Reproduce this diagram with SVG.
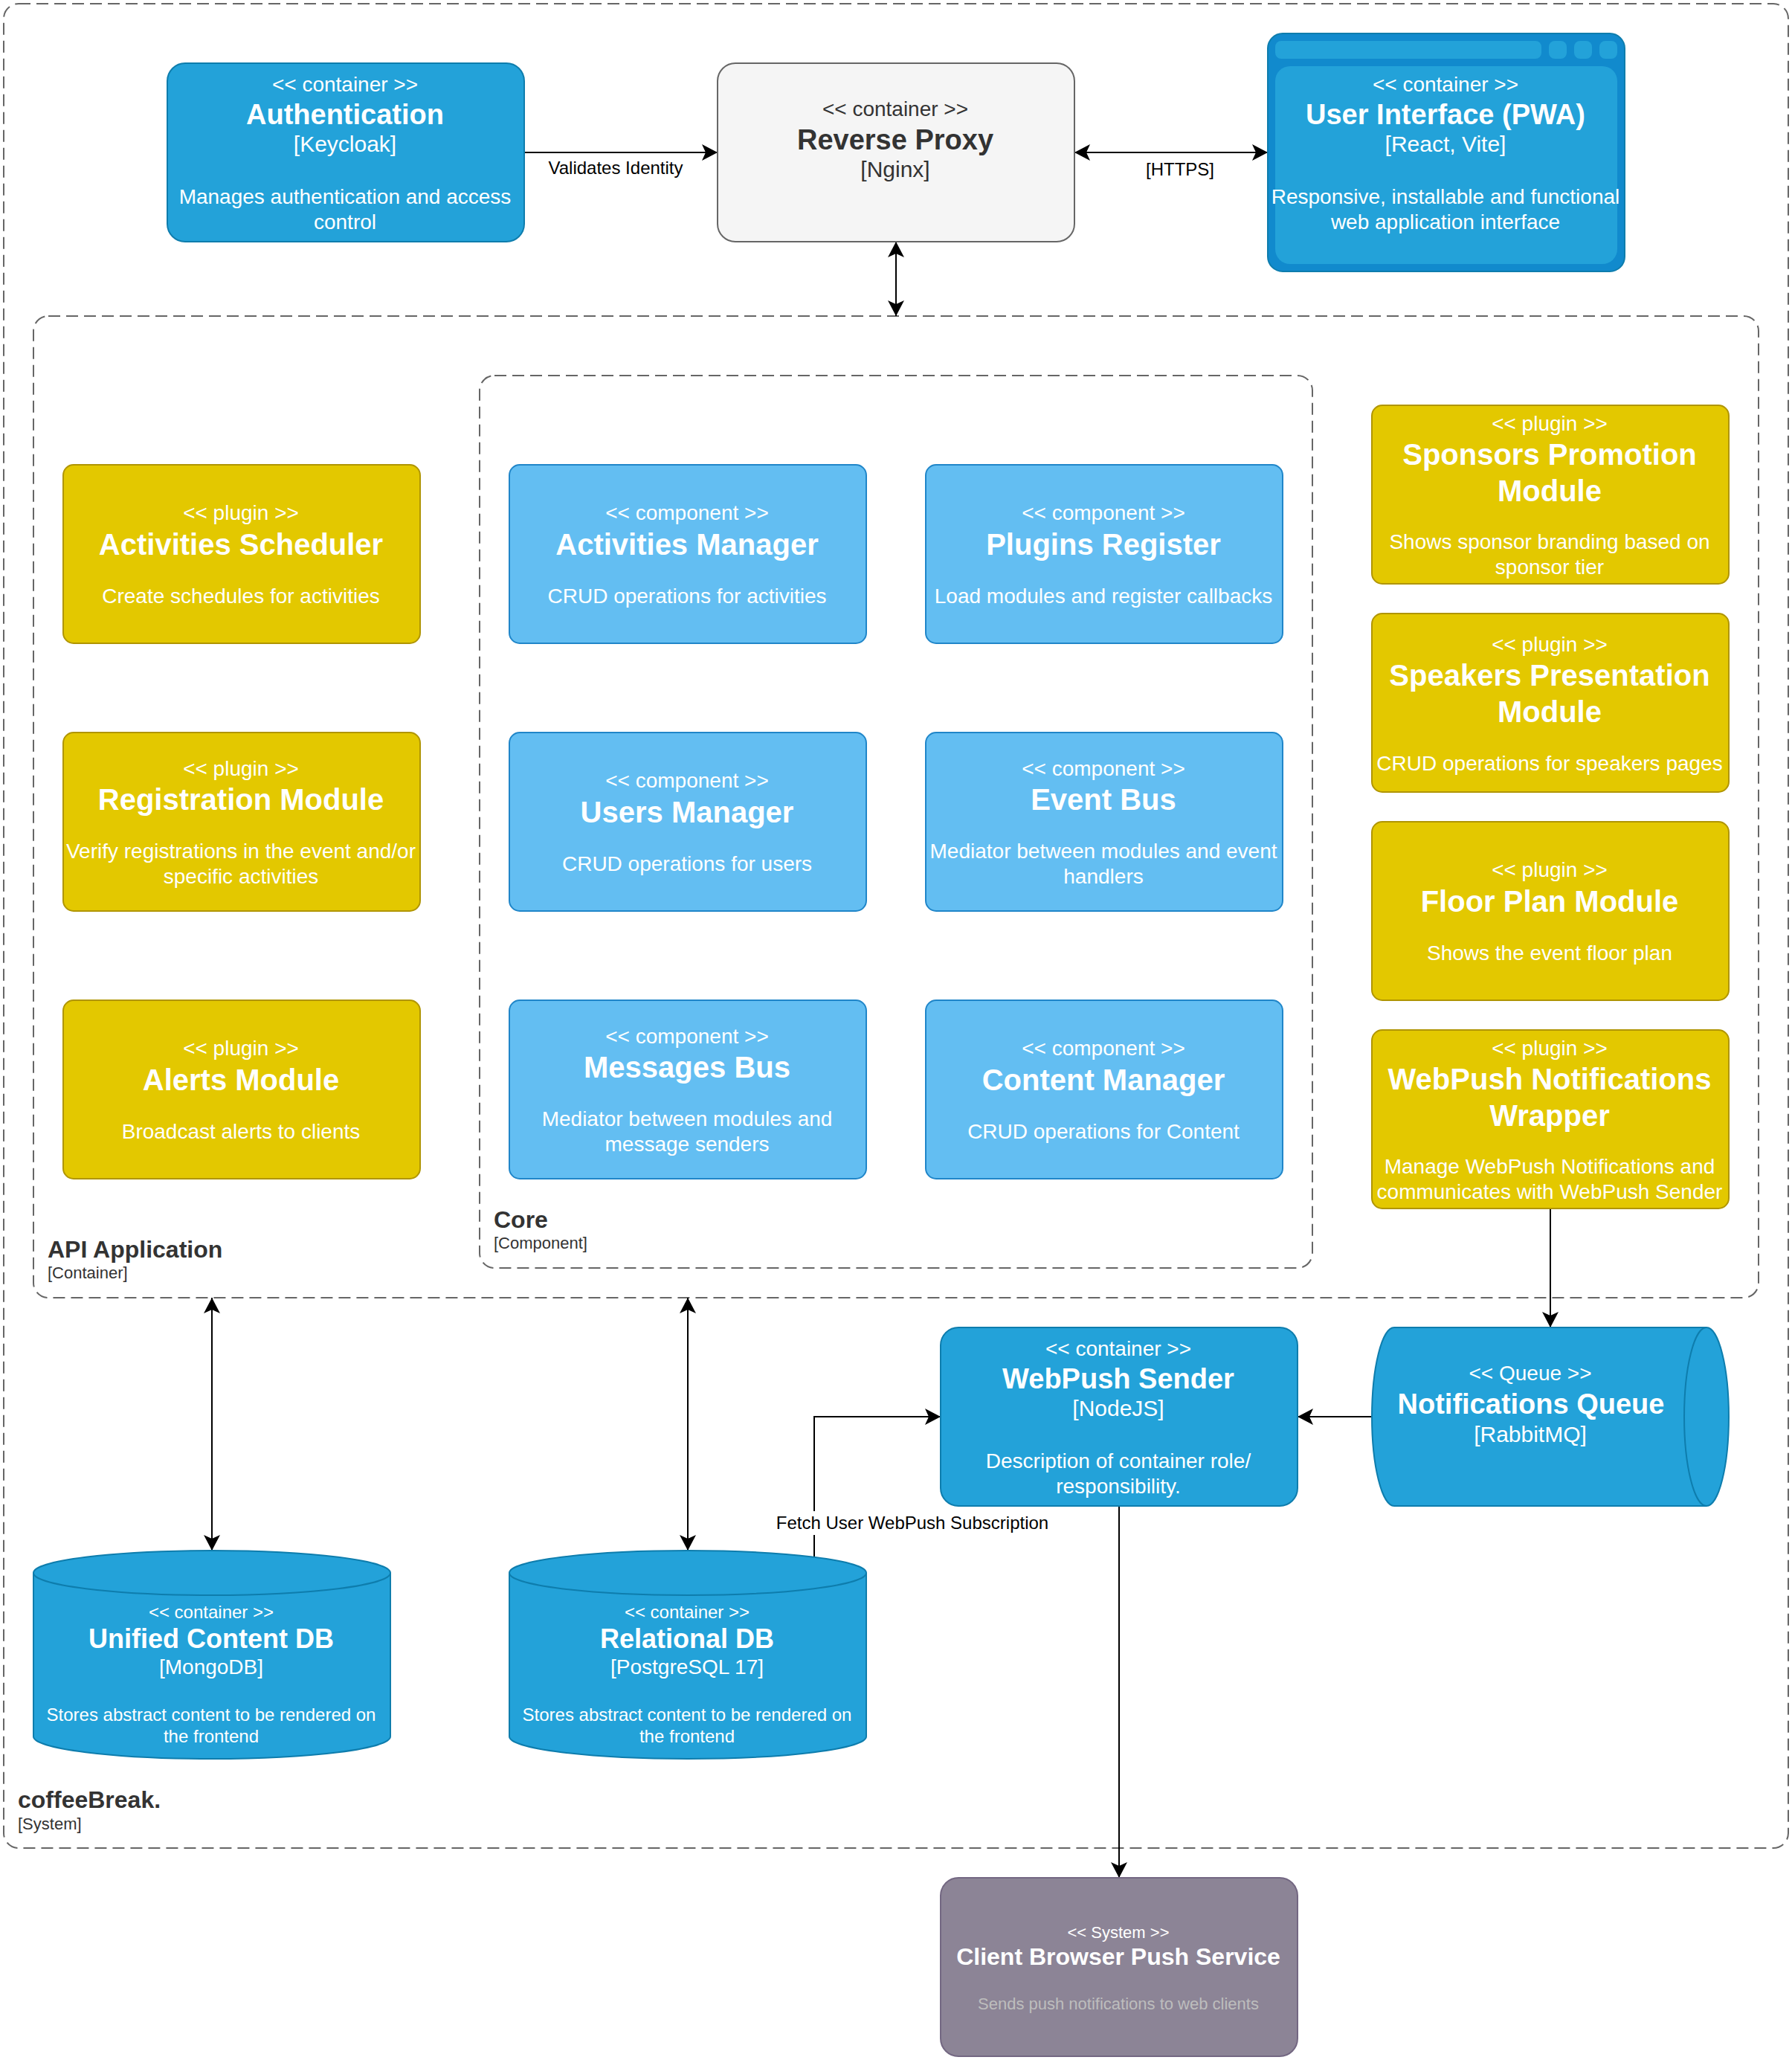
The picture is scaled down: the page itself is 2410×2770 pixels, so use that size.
<svg xmlns="http://www.w3.org/2000/svg" width="2410" height="2770" viewBox="0 0 2410 2770">
<defs>
<marker id="end" markerUnits="userSpaceOnUse" markerWidth="24" markerHeight="24" refX="22" refY="12" orient="auto"><path d="M22 12L1 23L6 12L1 1Z" fill="#000"/></marker>
<marker id="start" markerUnits="userSpaceOnUse" markerWidth="24" markerHeight="24" refX="2" refY="12" orient="auto"><path d="M2 12L23 1L18 12L23 23Z" fill="#000"/></marker>
</defs>
<style>
text{font-family:"Liberation Sans",Arial,sans-serif;font-size:28px;fill:#fff;text-anchor:middle}
.t{font-size:40px;font-weight:bold}
.tc{font-size:38px;font-weight:bold}
.v{font-size:30px}
.c{fill:#23A2D9;stroke:#0E7DAD;stroke-width:2}
.k{fill:#63BEF2;stroke:#2086C9;stroke-width:2}
.p{fill:#E3C800;stroke:#B09500;stroke-width:2}
.b{fill:none;stroke:#666;stroke-width:2;stroke-dasharray:16 8}
.l{fill:none;stroke:#000;stroke-width:2}
.e{font-size:24px;fill:#000}
.h{text-anchor:start;font-weight:bold;font-size:32px;fill:#333}
.s{text-anchor:start;font-size:22px;fill:#333}
.d{font-size:24px}
.dt{font-size:36px;font-weight:bold}
</style>
<g id="boundaries">
<rect id="system-boundary" class="b" x="5" y="5" width="2400" height="2480" rx="20"/>
<rect id="api-boundary" class="b" x="45" y="425" width="2320" height="1320" rx="20"/>
<rect id="core-boundary" class="b" x="645" y="505" width="1120" height="1200" rx="20"/>
<text class="h" x="24" y="2431">coffeeBreak.</text><text class="s" x="24" y="2460">[System]</text>
<text class="h" x="64" y="1691">API Application</text><text class="s" x="64" y="1719">[Container]</text>
<text class="h" x="664" y="1651">Core</text><text class="s" x="664" y="1679">[Component]</text>
</g>
<g id="connectors">
<path class="l" d="M705 205H965" marker-end="url(#end)"/>
<path class="l" d="M1445 205H1705" marker-start="url(#start)" marker-end="url(#end)"/>
<path class="l" d="M1205 325V425" marker-start="url(#start)" marker-end="url(#end)"/>
<path class="l" d="M2085 1625V1785" marker-end="url(#end)"/>
<path class="l" d="M1845 1905H1745" marker-end="url(#end)"/>
<path class="l" d="M285 1745V2085" marker-start="url(#start)" marker-end="url(#end)"/>
<path class="l" d="M925 1745V2085" marker-start="url(#start)" marker-end="url(#end)"/>
<path class="l" d="M1095 2100V1905H1265" marker-end="url(#end)"/>
<path class="l" d="M1505 2025V2525" marker-end="url(#end)"/>
<text class="e" x="828" y="234">Validates Identity</text>
<text class="e" x="1587" y="236">[HTTPS]</text>
<rect x="1044" y="2032" width="366" height="32" fill="#fff"/>
<text class="e" x="1227" y="2056">Fetch User WebPush Subscription</text>
</g>
<g id="authentication"><rect class="c" x="225" y="85" width="480" height="240" rx="24"/>
<text x="464" y="123">&lt;&lt; container &gt;&gt;</text><text class="tc" x="464" y="167">Authentication</text><text class="v" x="464" y="204">[Keycloak]</text><text x="464" y="274">Manages authentication and access</text><text x="464" y="308">control</text></g>
<g id="reverse-proxy"><rect x="965" y="85" width="480" height="240" rx="24" fill="#F5F5F5" stroke="#666" stroke-width="2"/>
<text x="1204" y="156" style="fill:#333">&lt;&lt; container &gt;&gt;</text><text class="tc" x="1204" y="201" style="fill:#333">Reverse Proxy</text><text class="v" x="1204" y="238" style="fill:#333">[Nginx]</text></g>
<g id="user-interface"><rect x="1705" y="45" width="480" height="320" rx="20" fill="#118ACD" stroke="#0E7DAD" stroke-width="2"/>
<g fill="#23A2D9"><rect x="1715" y="55" width="358" height="24" rx="8"/><rect x="2083" y="55" width="24" height="24" rx="8"/><rect x="2117" y="55" width="24" height="24" rx="8"/><rect x="2151" y="55" width="24" height="24" rx="8"/><rect x="1715" y="89" width="460" height="266" rx="20"/></g>
<text x="1944" y="123">&lt;&lt; container &gt;&gt;</text><text class="tc" x="1944" y="167">User Interface (PWA)</text><text class="v" x="1944" y="204">[React, Vite]</text><text x="1944" y="274">Responsive, installable and functional</text><text x="1944" y="308">web application interface</text></g>
<g id="activities-scheduler"><rect class="p" x="85" y="625" width="480" height="240" rx="14"/><text x="324" y="699">&lt;&lt; plugin &gt;&gt;</text><text class="t" x="324" y="746">Activities Scheduler</text><text x="324" y="811">Create schedules for activities</text></g>
<g id="registration-module"><rect class="p" x="85" y="985" width="480" height="240" rx="14"/><text x="324" y="1043">&lt;&lt; plugin &gt;&gt;</text><text class="t" x="324" y="1089">Registration Module</text><text x="324" y="1154">Verify registrations in the event and/or</text><text x="324" y="1188">specific activities</text></g>
<g id="alerts-module"><rect class="p" x="85" y="1345" width="480" height="240" rx="14"/><text x="324" y="1419">&lt;&lt; plugin &gt;&gt;</text><text class="t" x="324" y="1466">Alerts Module</text><text x="324" y="1531">Broadcast alerts to clients</text></g>
<g id="activities-manager"><rect class="k" x="685" y="625" width="480" height="240" rx="14"/><text x="924" y="699">&lt;&lt; component &gt;&gt;</text><text class="t" x="924" y="746">Activities Manager</text><text x="924" y="811">CRUD operations for activities</text></g>
<g id="plugins-register"><rect class="k" x="1245" y="625" width="480" height="240" rx="14"/><text x="1484" y="699">&lt;&lt; component &gt;&gt;</text><text class="t" x="1484" y="746">Plugins Register</text><text x="1484" y="811">Load modules and register callbacks</text></g>
<g id="users-manager"><rect class="k" x="685" y="985" width="480" height="240" rx="14"/><text x="924" y="1059">&lt;&lt; component &gt;&gt;</text><text class="t" x="924" y="1106">Users Manager</text><text x="924" y="1171">CRUD operations for users</text></g>
<g id="event-bus"><rect class="k" x="1245" y="985" width="480" height="240" rx="14"/><text x="1484" y="1043">&lt;&lt; component &gt;&gt;</text><text class="t" x="1484" y="1089">Event Bus</text><text x="1484" y="1154">Mediator between modules and event</text><text x="1484" y="1188">handlers</text></g>
<g id="messages-bus"><rect class="k" x="685" y="1345" width="480" height="240" rx="14"/><text x="924" y="1403">&lt;&lt; component &gt;&gt;</text><text class="t" x="924" y="1449">Messages Bus</text><text x="924" y="1514">Mediator between modules and</text><text x="924" y="1548">message senders</text></g>
<g id="content-manager"><rect class="k" x="1245" y="1345" width="480" height="240" rx="14"/><text x="1484" y="1419">&lt;&lt; component &gt;&gt;</text><text class="t" x="1484" y="1466">Content Manager</text><text x="1484" y="1531">CRUD operations for Content</text></g>
<g id="sponsors-promotion"><rect class="p" x="1845" y="545" width="480" height="240" rx="14"/><text x="2084" y="579">&lt;&lt; plugin &gt;&gt;</text><text class="t" x="2084" y="625">Sponsors Promotion</text><text class="t" x="2084" y="674">Module</text><text x="2084" y="738">Shows sponsor branding based on</text><text x="2084" y="772">sponsor tier</text></g>
<g id="speakers-presentation"><rect class="p" x="1845" y="825" width="480" height="240" rx="14"/><text x="2084" y="876">&lt;&lt; plugin &gt;&gt;</text><text class="t" x="2084" y="922">Speakers Presentation</text><text class="t" x="2084" y="971">Module</text><text x="2084" y="1036">CRUD operations for speakers pages</text></g>
<g id="floor-plan"><rect class="p" x="1845" y="1105" width="480" height="240" rx="14"/><text x="2084" y="1179">&lt;&lt; plugin &gt;&gt;</text><text class="t" x="2084" y="1226">Floor Plan Module</text><text x="2084" y="1291">Shows the event floor plan</text></g>
<g id="webpush-wrapper"><rect class="p" x="1845" y="1385" width="480" height="240" rx="14"/><text x="2084" y="1419">&lt;&lt; plugin &gt;&gt;</text><text class="t" x="2084" y="1465">WebPush Notifications</text><text class="t" x="2084" y="1514">Wrapper</text><text x="2084" y="1578">Manage WebPush Notifications and</text><text x="2084" y="1612">communicates with WebPush Sender</text></g>
<g id="webpush-sender"><rect class="c" x="1265" y="1785" width="480" height="240" rx="24"/><text x="1504" y="1823">&lt;&lt; container &gt;&gt;</text><text class="tc" x="1504" y="1867">WebPush Sender</text><text class="v" x="1504" y="1904">[NodeJS]</text><text x="1504" y="1974">Description of container role/</text><text x="1504" y="2008">responsibility.</text></g>
<g id="notifications-queue"><path class="c" d="M1875 1785H2295A30 120 0 0 1 2295 2025H1875A30 120 0 0 1 1875 1785Z"/><path class="c" style="fill:none" d="M2295 1785A30 120 0 0 0 2295 2025"/><text x="2058" y="1856">&lt;&lt; Queue &gt;&gt;</text><text class="tc" x="2059" y="1901">Notifications Queue</text><text class="v" x="2058" y="1939">[RabbitMQ]</text></g>
<g id="unified-content-db"><path class="c" d="M45 2115A240 30 0 0 1 525 2115V2335A240 30 0 0 1 45 2335Z"/><path class="c" style="fill:none" d="M525 2115A240 30 0 0 1 45 2115"/><text class="d" x="284" y="2176">&lt;&lt; container &gt;&gt;</text><text class="dt" x="284" y="2216">Unified Content DB</text><text x="284" y="2251">[MongoDB]</text><text class="d" x="284" y="2314">Stores abstract content to be rendered on</text><text class="d" x="284" y="2343">the frontend</text></g>
<g id="relational-db"><path class="c" d="M685 2115A240 30 0 0 1 1165 2115V2335A240 30 0 0 1 685 2335Z"/><path class="c" style="fill:none" d="M1165 2115A240 30 0 0 1 685 2115"/><text class="d" x="924" y="2176">&lt;&lt; container &gt;&gt;</text><text class="dt" x="924" y="2216">Relational DB</text><text x="924" y="2251">[PostgreSQL 17]</text><text class="d" x="924" y="2314">Stores abstract content to be rendered on</text><text class="d" x="924" y="2343">the frontend</text></g>
<g id="client-browser-push"><rect x="1265" y="2525" width="480" height="240" rx="24" fill="#8C8496" stroke="#736782" stroke-width="2"/><text x="1504" y="2606" style="font-size:22px">&lt;&lt; System &gt;&gt;</text><text x="1504" y="2642" style="font-size:32px;font-weight:bold">Client Browser Push Service</text><text x="1504" y="2702" style="font-size:22px;fill:#BDBDBD">Sends push notifications to web clients</text></g>
</svg>
